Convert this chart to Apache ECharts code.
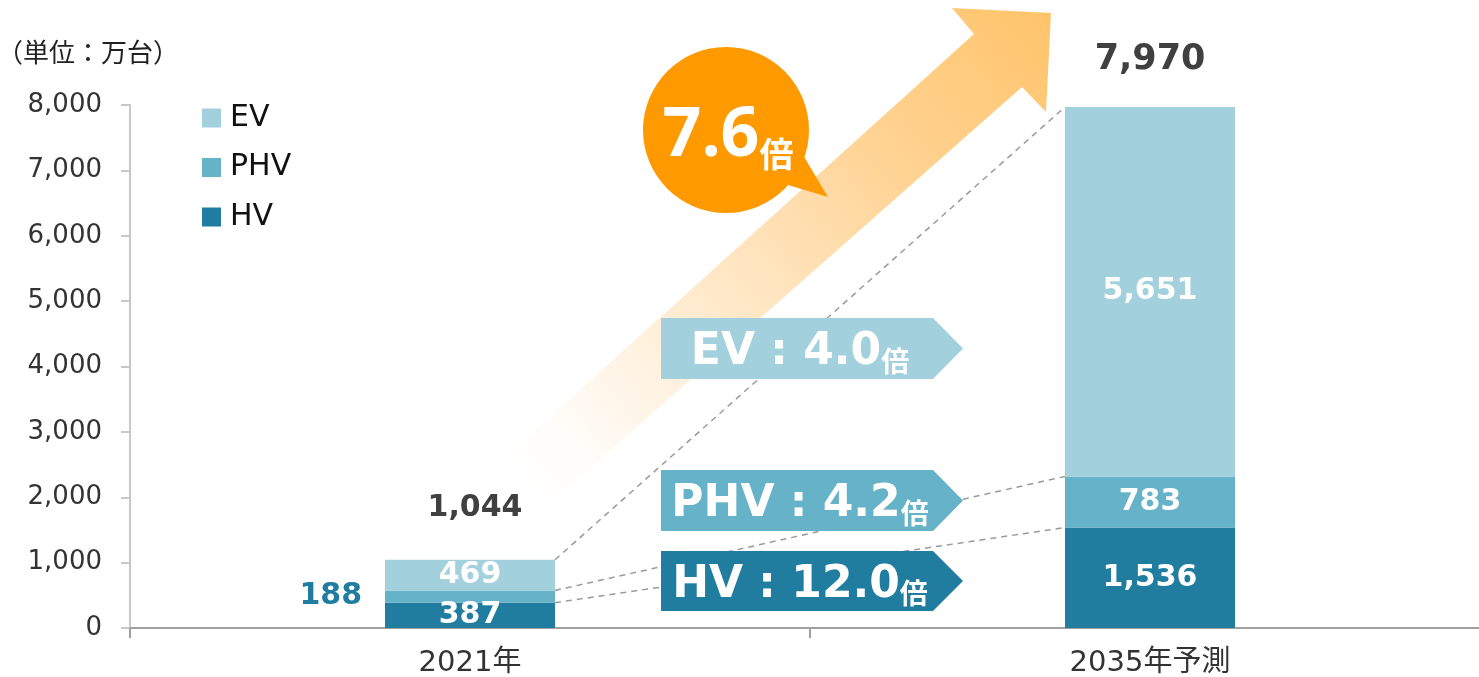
<!DOCTYPE html>
<html>
<head>
<meta charset="utf-8">
<script src="https://cdn.jsdelivr.net/npm/echarts@6/dist/echarts.min.js"></script>
<style>
  html, body { margin: 0; padding: 0; background: #fff; overflow: hidden; }
  #main { width: 1490px; height: 677px; }
</style>
</head>
<body>
<div id="main"></div>
<script>
// Annual sales by powertrain (unit: 10,000 vehicles)
const categories = ['2021年', '2035年予測'];
const hvValues = [387, 1536];
const phvValues = [188, 783];
const evValues = [469, 5651];
const yTickValues = [0, 1000, 2000, 3000, 4000, 5000, 6000, 7000, 8000];
const seriesNames = ['EV', 'PHV', 'HV'];
// growth multiples shown in the callouts
const growthRatios = { EV: '4.0', PHV: '4.2', HV: '12.0' };
const totalRatio = '7.6';
const unitLabel = '（単位：万台）';

const COLORS = { EV: '#a2d0dc', PHV: '#66b2c8', HV: '#217da0' };
const NUM_FONT = '"DejaVu Sans", Verdana, sans-serif';
const JP_FONT = '"DejaVu Sans", "Noto Sans CJK JP", sans-serif';
const CJK_FONT = '"Noto Sans CJK JP", sans-serif';
const BAR_WIDTH = 170;

const fmt = v => v.toLocaleString('en-US');
const totals = categories.map((_, i) => hvValues[i] + phvValues[i] + evValues[i]);

const chart = echarts.init(document.getElementById('main'), null, { renderer: 'canvas' });

const insideLabel = {
  show: true, position: 'inside', color: '#fff',
  fontFamily: NUM_FONT, fontWeight: 'bold', fontSize: 30,
  formatter: p => fmt(p.value)
};

// the small 2021 PHV segment carries its label outside, to the left
const phvData = phvValues.map((v, i) => i === 0
  ? { value: v, label: { position: 'left', distance: 23, color: COLORS.HV } }
  : v);

const totalData = totals.map((t, i) => ({
  value: 0,
  label: i === 0
    ? { fontSize: 30, distance: 37, offset: [5, 0] }
    : { fontSize: 35, distance: 30 }
}));

chart.setOption({
  animation: false,
  backgroundColor: '#fff',
  grid: { left: 130, top: 105, right: 0, height: 523, containLabel: false, outerBoundsMode: 'none' },
  legend: {
    data: seriesNames,
    orient: 'vertical',
    left: 202, top: 103,
    padding: 0,
    itemWidth: 19, itemHeight: 19, itemGap: 19.5,
    icon: 'rect',
    selectedMode: false,
    textStyle: { fontFamily: NUM_FONT, fontSize: 30, color: '#111', lineHeight: 28, padding: [0, 0, 0, 4] }
  },
  xAxis: {
    type: 'category',
    data: categories,
    axisLine: { lineStyle: { color: '#a0a0a0', width: 2 } },
    axisTick: { show: true, length: 10, lineStyle: { color: '#a0a0a0', width: 2 } },
    axisLabel: { fontFamily: JP_FONT, fontSize: 29, color: '#333', margin: 21 },
    splitLine: { show: false }
  },
  yAxis: {
    type: 'value',
    min: yTickValues[0],
    max: yTickValues[yTickValues.length - 1],
    interval: yTickValues[1] - yTickValues[0],
    axisLine: { show: true, lineStyle: { color: '#c8c8c8', width: 2 } },
    axisTick: { show: true, length: 9, lineStyle: { color: '#c8c8c8', width: 2 } },
    axisLabel: { fontFamily: NUM_FONT, fontSize: 26, color: '#333', margin: 28, formatter: v => fmt(v) },
    splitLine: { show: false }
  },
  series: [
    { name: 'HV', type: 'bar', stack: 'sales', barWidth: BAR_WIDTH, data: hvValues,
      itemStyle: { color: COLORS.HV }, label: insideLabel, z: 3 },
    { name: 'PHV', type: 'bar', stack: 'sales', barWidth: BAR_WIDTH, data: phvData,
      itemStyle: { color: COLORS.PHV }, label: insideLabel, z: 3 },
    { name: 'EV', type: 'bar', stack: 'sales', barWidth: BAR_WIDTH, data: evValues,
      itemStyle: { color: COLORS.EV }, label: insideLabel, z: 3 },
    { name: 'total', type: 'bar', stack: 'sales', barWidth: BAR_WIDTH, data: totalData,
      itemStyle: { color: 'rgba(0,0,0,0)' }, z: 3,
      label: { show: true, position: 'top', color: '#404040', fontFamily: NUM_FONT,
        fontWeight: 'bold', formatter: p => fmt(totals[p.dataIndex]) } }
  ]
});

// ---- annotations: connectors, growth arrow and callouts ----
const toPx = (ci, v) => chart.convertToPixel({ gridIndex: 0 }, [ci, v]);
const half = BAR_WIDTH / 2;
const levels = [
  hvValues.slice(),
  hvValues.map((v, i) => v + phvValues[i]),
  totals
];

const elements = [];

// unit caption
elements.push({
  type: 'text', x: -3, y: 52, z: 10,
  style: { text: unitLabel, fontSize: 26, fontFamily: CJK_FONT, fill: '#222', verticalAlign: 'middle' }
});

// big growth arrow with fading tail
elements.push({
  type: 'polygon', z: 1, silent: true,
  shape: { points: [[510, 453], [974, 34], [952, 8], [1051, 13], [1046, 112], [1022, 87], [552, 502]] },
  style: {
    fill: new echarts.graphic.LinearGradient(0, 1, 1, 0, [
      { offset: 0, color: 'rgba(255,205,135,0)' },
      { offset: 0.12, color: 'rgba(255,205,135,0.05)' },
      { offset: 0.35, color: 'rgba(255,205,135,0.38)' },
      { offset: 0.7, color: 'rgba(255,200,120,0.8)' },
      { offset: 1, color: 'rgba(255,195,105,1)' }
    ])
  }
});

// dashed connectors between matching segment tops
levels.forEach(lv => {
  const a = toPx(0, lv[0]);
  const b = toPx(1, lv[1]);
  elements.push({
    type: 'line', z: 5, silent: true,
    shape: { x1: a[0] + half, y1: a[1], x2: b[0] - half, y2: b[1] },
    style: { stroke: '#9a9a9a', lineWidth: 1.5, lineDash: [6, 5] }
  });
});

// speech bubble for the overall multiple
elements.push({
  type: 'circle', z: 6, shape: { cx: 726, cy: 130, r: 83 }, style: { fill: '#ff9900' }
});
elements.push({
  type: 'polygon', z: 6, shape: { points: [[778, 182], [828, 197], [800, 150]] }, style: { fill: '#ff9900' }
});
elements.push({
  type: 'text', z: 7, x: 728, y: 137,
  style: {
    text: '{a|' + totalRatio + '}{b|倍}',
    align: 'center', verticalAlign: 'middle',
    rich: {
      a: { fontFamily: '"Noto Sans", sans-serif', fontWeight: 'bold', fontSize: 68, fill: '#fff', lineHeight: 68, verticalAlign: 'bottom' },
      b: { fontFamily: CJK_FONT, fontWeight: 'bold', fontSize: 34, fill: '#fff', lineHeight: 59, verticalAlign: 'bottom' }
    }
  }
});

// per-powertrain growth tags
const tags = [
  { key: 'EV', top: 318, bottom: 379 },
  { key: 'PHV', top: 470, bottom: 531 },
  { key: 'HV', top: 551, bottom: 611 }
];
tags.forEach(t => {
  const mid = (t.top + t.bottom) / 2;
  elements.push({
    type: 'polygon', z: 8,
    shape: { points: [[661, t.top], [933, t.top], [963, mid], [933, t.bottom], [661, t.bottom]] },
    style: { fill: COLORS[t.key] }
  });
  elements.push({
    type: 'text', z: 9, x: 800, y: mid + 4.5,
    style: {
      text: '{a|' + t.key + ' : ' + growthRatios[t.key] + '}{b|倍}',
      align: 'center', verticalAlign: 'middle',
      rich: {
        a: { fontFamily: NUM_FONT, fontWeight: 'bold', fontSize: 44, fill: '#fff', lineHeight: 44, verticalAlign: 'bottom' },
        b: { fontFamily: CJK_FONT, fontWeight: 'bold', fontSize: 28, fill: '#fff', lineHeight: 39, verticalAlign: 'bottom' }
      }
    }
  });
});

chart.setOption({ graphic: { elements: elements } });
</script>
</body>
</html>
